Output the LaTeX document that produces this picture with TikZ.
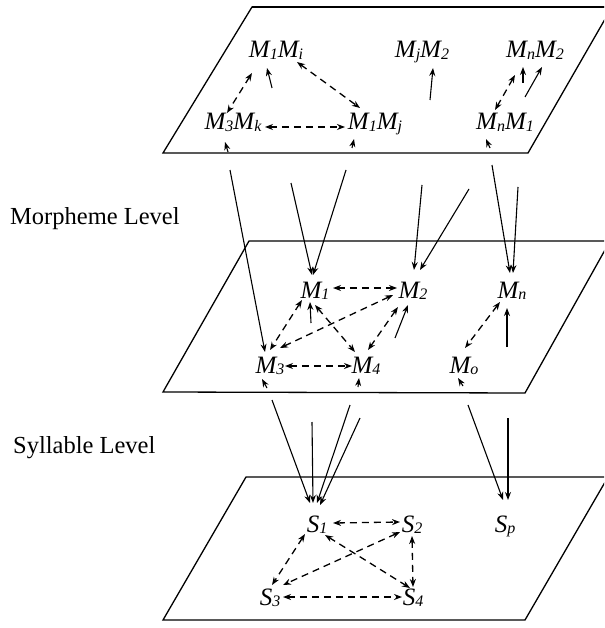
\documentclass[tikz,border=0pt]{standalone}
\usepackage{fontspec}
\setmainfont{Liberation Serif}
\usetikzlibrary{arrows.meta}
\newcommand{\lsub}[1]{\raisebox{-1.5pt}{\fontsize{16}{16}\selectfont #1}}
\tikzset{
  plane/.style={line width=1.3pt, line join=miter},
  lbl/.style={inner sep=0pt, anchor=base, font=\fontsize{25}{29}\selectfont\itshape},
  lvl/.style={inner sep=0pt, anchor=base west, font=\fontsize{24.5}{29}\selectfont},
  tip/.style={-{Stealth[length=8pt,width=6pt]}},
  dtip/.style={{Stealth[length=8pt,width=6pt]}-{Stealth[length=8pt,width=6pt]}},
  sar/.style={tip, line width=1.1pt},
  dar/.style={dtip, line width=1.3pt, dash pattern=on 7pt off 5pt},
}
\begin{document}
\begin{tikzpicture}[x=1pt,y=-1pt]
\useasboundingbox (0,0) rectangle (604,628);
\clip (0,0) rectangle (604,628);
% planes
\draw[plane] (252,7) -- (612,7) -- (528,153) -- (163,153) -- cycle;
\draw[line width=1.8pt] (252,7) -- (612,7);
\draw[plane] (249,241) -- (610,241) -- (525,393) -- (163,392) -- cycle;
\draw[plane] (246,477) -- (608,477) -- (525,620) -- (163,620) -- cycle;
% level labels
\node[lvl] (ml) at (10,225) {Morpheme Level};
\node[lvl] (sl) at (13,453) {Syllable Level};
% top plane nodes
\node[lbl] (M1Mi) at (276,58) {M\lsub{1}M\lsub{i}};
\node[lbl] (MjM2) at (422,58) {M\lsub{j}M\lsub{2}};
\node[lbl] (MnM2) at (535,58) {M\lsub{n}M\lsub{2}};
\node[lbl] (M3Mk) at (233,130) {M\lsub{3}M\lsub{k}};
\node[lbl] (M1Mj) at (375,130) {M\lsub{1}M\lsub{j}};
\node[lbl] (MnM1) at (505,130) {M\lsub{n}M\lsub{1}};
% middle plane nodes
\node[lbl] (M1) at (315,298) {M\lsub{1}};
\node[lbl] (M2) at (413,298) {M\lsub{2}};
\node[lbl] (Mn) at (512,298) {M\lsub{n}};
\node[lbl] (M3) at (270,373) {M\lsub{3}};
\node[lbl] (M4) at (366,373) {M\lsub{4}};
\node[lbl] (Mo) at (464,373) {M\lsub{o}};
% bottom plane nodes
\node[lbl] (S1) at (317,532) {S\lsub{1}};
\node[lbl] (S2) at (412,532) {S\lsub{2}};
\node[lbl] (Sp) at (505,532) {S\lsub{p}};
\node[lbl] (S3) at (270,605) {S\lsub{3}};
\node[lbl] (S4) at (413,605) {S\lsub{4}};
% top plane connectors
\draw[dar] ([shift={(-24,15)}]M1Mi.base) -- ([shift={(-6,-17)}]M3Mk.base);
\draw[sar] ([shift={(-4,30)}]M1Mi.base) -- ([shift={(-9,10)}]M1Mi.base);
\draw[dar] ([shift={(21,4)}]M1Mi.base) -- ([shift={(-15,-22)}]M1Mj.base);
\draw[dar] ([shift={(32,-3)}]M3Mk.base) -- ([shift={(-30,-3)}]M1Mj.base);
\draw[sar] ([shift={(8,42)}]MjM2.base) -- ([shift={(11,10)}]MjM2.base);
\draw[dar] ([shift={(-20,17)}]MnM2.base) -- ([shift={(-10,-20)}]MnM1.base);
\draw[sar] ([shift={(-12,25)}]MnM2.base) -- ([shift={(-12,9)}]MnM2.base);
\draw[sar] ([shift={(-10,39)}]MnM2.base) -- ([shift={(7,9)}]MnM2.base);
\draw[sar] ([shift={(-5,22)}]M3Mk.base) -- ([shift={(-8,12)}]M3Mk.base);
\draw[sar] ([shift={(-23,18)}]M1Mj.base) -- ([shift={(-21,9)}]M1Mj.base);
\draw[sar] ([shift={(-15,18)}]MnM1.base) -- ([shift={(-19,9)}]MnM1.base);
% top to middle
\coordinate (a1) at (230,170);
\coordinate (a2) at (291,183);
\coordinate (a3) at (346,170);
\coordinate (a4) at (422,185);
\coordinate (a5) at (469,189);
\coordinate (a6) at (492,165);
\coordinate (a7) at (518,187);
\draw[sar] (a1) -- ([shift={(-5,-21)}]M3.base);
\draw[sar] (a2) -- ([shift={(-3,-23)}]M1.base);
\draw[sar] (a3) -- ([shift={(-2,-23)}]M1.base);
\draw[sar] (a4) -- ([shift={(1,-28)}]M2.base);
\draw[sar] (a5) -- ([shift={(7,-28)}]M2.base);
\draw[sar] (a6) -- ([shift={(-2,-25)}]Mn.base);
\draw[sar] (a7) -- ([shift={(1,-25)}]Mn.base);
% middle plane connectors
\draw[dar] ([shift={(18,-10)}]M1.base) -- ([shift={(-16,-10)}]M2.base);
\draw[dar] ([shift={(-13,2)}]M1.base) -- ([shift={(0,-23)}]M3.base);
\draw[sar] ([shift={(-4,25)}]M1.base) -- ([shift={(-5,4)}]M1.base);
\draw[dar] ([shift={(0,7)}]M1.base) -- ([shift={(-11,-21)}]M4.base);
\draw[dar] ([shift={(-20,-3)}]M2.base) -- ([shift={(10,-25)}]M3.base);
\draw[dar] ([shift={(-15,9)}]M2.base) -- ([shift={(2,-23)}]M4.base);
\draw[sar] ([shift={(-18,40)}]M2.base) -- ([shift={(-5,7)}]M2.base);
\draw[dar] ([shift={(15,-7)}]M3.base) -- ([shift={(-14,-7)}]M4.base);
\draw[dar] ([shift={(-12,4)}]Mn.base) -- ([shift={(1,-25)}]Mo.base);
\draw[sar] ([shift={(-5,49)}]Mn.base) -- ([shift={(-5,10)}]Mn.base);
\draw[sar] ([shift={(-3,15)}]M3.base) -- ([shift={(-8,6)}]M3.base);
\draw[sar] ([shift={(-8,14)}]M4.base) -- ([shift={(-7,5)}]M4.base);
\draw[sar] ([shift={(-1,13)}]Mo.base) -- ([shift={(-6,5)}]Mo.base);
% middle to bottom
\coordinate (b1) at (272,400);
\coordinate (b2) at (312,422);
\coordinate (b3) at (350,405);
\coordinate (b4) at (360,418);
\coordinate (b5) at (468,405);
\coordinate (b6) at (508,418);
\draw[sar] (b1) -- ([shift={(-7,-29)}]S1.base);
\draw[sar] (b2) -- ([shift={(-4,-29)}]S1.base);
\draw[sar] (b3) -- ([shift={(0,-29)}]S1.base);
\draw[sar] (b4) -- ([shift={(3,-27)}]S1.base);
\draw[sar] (b5) -- ([shift={(-2,-32)}]Sp.base);
\draw[sar] (b6) -- ([shift={(3,-32)}]Sp.base);
% bottom plane connectors
\draw[dar] ([shift={(16,-9)}]S1.base) -- ([shift={(-12,-10)}]S2.base);
\draw[dar] ([shift={(-12,2)}]S1.base) -- ([shift={(2,-20)}]S3.base);
\draw[dar] ([shift={(8,3)}]S1.base) -- ([shift={(-3,-17)}]S4.base);
\draw[dar] ([shift={(-12,0)}]S2.base) -- ([shift={(13,-20)}]S3.base);
\draw[dar] ([shift={(0,4)}]S2.base) -- ([shift={(0,-18)}]S4.base);
\draw[dar] ([shift={(13,-8)}]S3.base) -- ([shift={(-11,-8)}]S4.base);
\end{tikzpicture}
\end{document}
